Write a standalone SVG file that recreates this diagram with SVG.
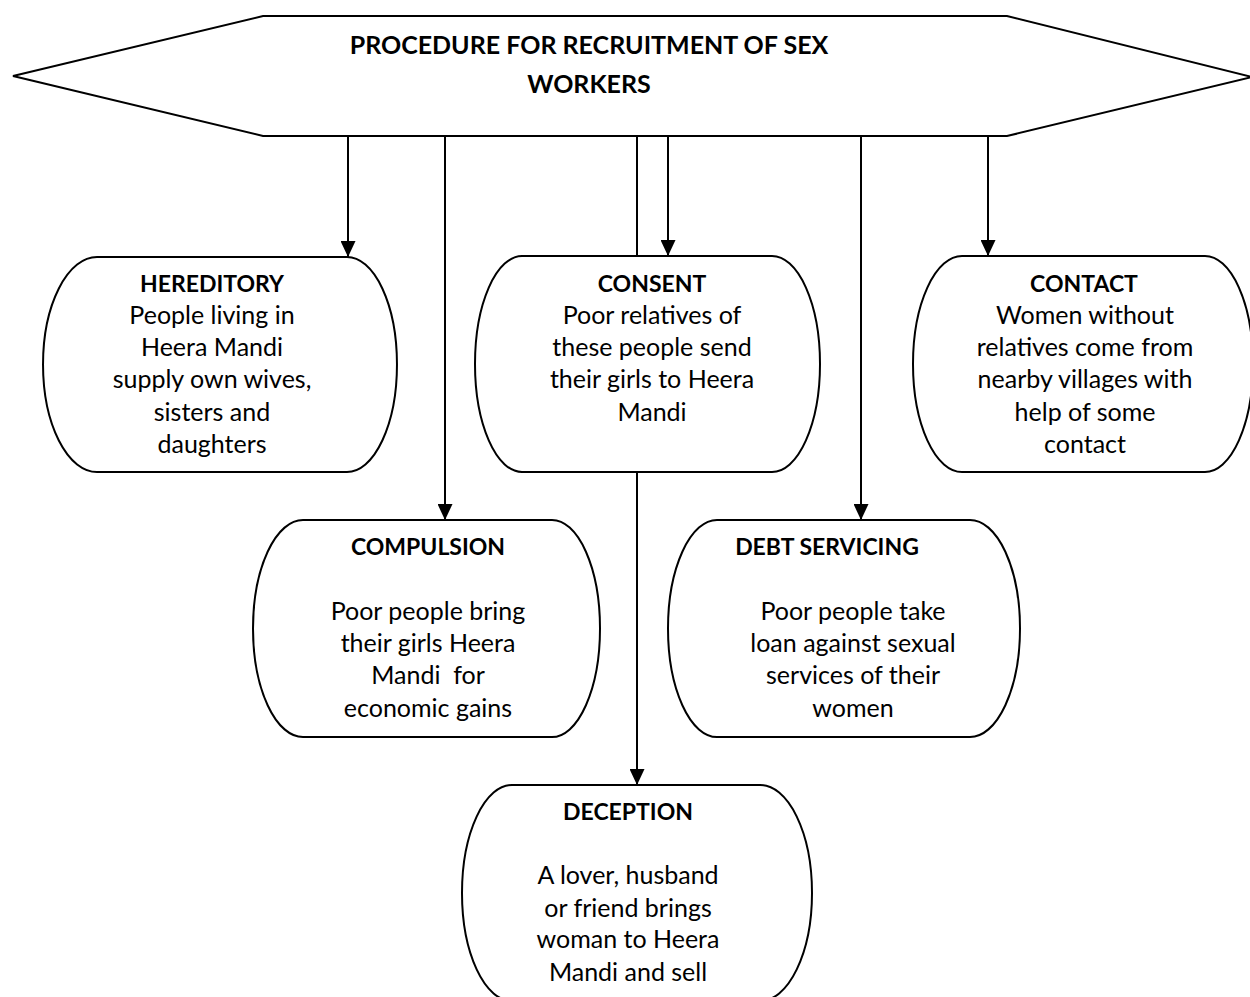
<svg xmlns="http://www.w3.org/2000/svg" width="1250" height="997" viewBox="0 0 1250 997">
<style>
.shape{fill:#fff;stroke:#000;stroke-width:2}
.conn{stroke:#000;stroke-width:2;fill:none}
text{font-family:Lato,"Open Sans",sans-serif;font-size:25px;fill:#000;text-anchor:middle}
.t{font-weight:bold;font-size:23px}
.h{font-weight:bold;font-size:25px}
</style>
<defs>
<marker id="ah" viewBox="0 0 16 15" refX="16" refY="7.5" markerWidth="16" markerHeight="15" markerUnits="userSpaceOnUse" orient="auto">
<path d="M0,0 L16,7.5 L0,15 Z" fill="#000"/>
</marker>
</defs>
<rect width="1250" height="997" fill="#fff"/>
<g id="header">
<polygon class="shape" points="13,76 263,16 1007,16 1252,77 1007,136 263,136"/>
<text class="h" x="589" y="54">PROCEDURE FOR RECRUITMENT OF SEX</text>
<text class="h" x="589" y="93">WORKERS</text>
</g>
<g id="connectors">
<line class="conn" x1="348" y1="136" x2="348" y2="257" marker-end="url(#ah)"/>
<line class="conn" x1="445" y1="136" x2="445" y2="520" marker-end="url(#ah)"/>
<line class="conn" x1="637" y1="136" x2="637" y2="256"/>
<line class="conn" x1="668" y1="136" x2="668" y2="256" marker-end="url(#ah)"/>
<line class="conn" x1="861" y1="136" x2="861" y2="520" marker-end="url(#ah)"/>
<line class="conn" x1="988" y1="136" x2="988" y2="256" marker-end="url(#ah)"/>
<line class="conn" x1="637" y1="472" x2="637" y2="785" marker-end="url(#ah)"/>
</g>
<g id="hereditory">
<path class="shape" d="M97,257 H347 A50,107.5 0 0 1 347,472 H97 A54,107.5 0 0 1 97,257 Z"/>
<text class="t" x="212" y="292">HEREDITORY</text>
<text x="212" y="324">People living in</text>
<text x="212" y="356">Heera Mandi</text>
<text x="212" y="388">supply own wives,</text>
<text x="212" y="421">sisters and</text>
<text x="212" y="453">daughters</text>
</g>
<g id="consent">
<path class="shape" d="M522,256 H772 A48,108 0 0 1 772,472 H522 A47,108 0 0 1 522,256 Z"/>
<text class="t" x="652" y="292">CONSENT</text>
<text x="652" y="324">Poor relatives of</text>
<text x="652" y="356">these people send</text>
<text x="652" y="388">their girls to Heera</text>
<text x="652" y="421">Mandi</text>
</g>
<g id="contact">
<path class="shape" d="M962,256 H1205 A48,108 0 0 1 1205,472 H962 A49,108 0 0 1 962,256 Z"/>
<text class="t" x="1084" y="292">CONTACT</text>
<text x="1085" y="324">Women without</text>
<text x="1085" y="356">relatives come from</text>
<text x="1085" y="388">nearby villages with</text>
<text x="1085" y="421">help of some</text>
<text x="1085" y="453">contact</text>
</g>
<g id="compulsion">
<path class="shape" d="M303,520 H552 A48,108.5 0 0 1 552,737 H303 A50,108.5 0 0 1 303,520 Z"/>
<text class="t" x="428" y="555">COMPULSION</text>
<text x="428" y="620">Poor people bring</text>
<text x="428" y="652">their girls Heera</text>
<text x="428" y="684" xml:space="preserve">Mandi  for</text>
<text x="428" y="717">economic gains</text>
</g>
<g id="debt">
<path class="shape" d="M717,520 H970 A50,108.5 0 0 1 970,737 H717 A49,108.5 0 0 1 717,520 Z"/>
<text class="t" x="827" y="555">DEBT SERVICING</text>
<text x="853" y="620">Poor people take</text>
<text x="853" y="652">loan against sexual</text>
<text x="853" y="684">services of their</text>
<text x="853" y="717">women</text>
</g>
<g id="deception">
<path class="shape" d="M512,785 H760 A52,108 0 0 1 760,1001 H512 A50,108 0 0 1 512,785 Z"/>
<text class="t" x="628" y="820">DECEPTION</text>
<text x="628" y="884">A lover, husband</text>
<text x="628" y="917">or friend brings</text>
<text x="628" y="948">woman to Heera</text>
<text x="628" y="981">Mandi and sell</text>
</g>
</svg>
